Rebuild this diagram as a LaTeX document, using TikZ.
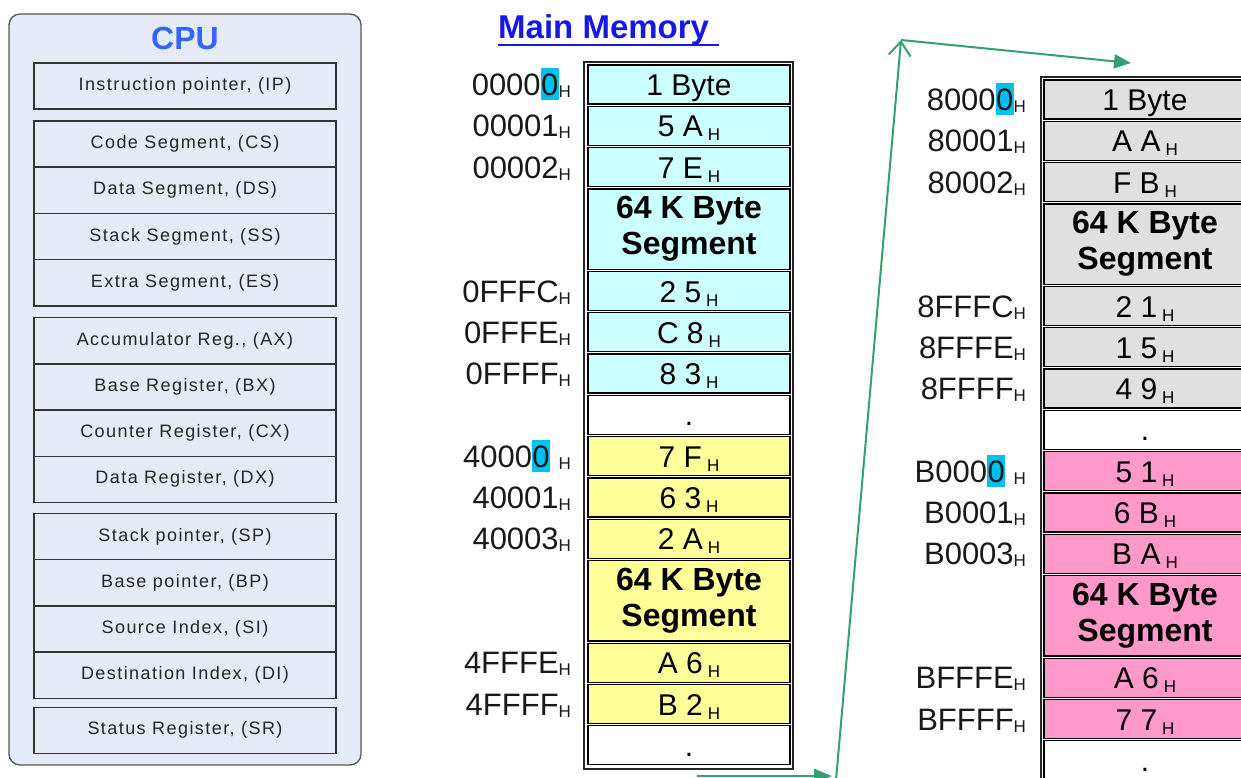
\documentclass[tikz,border=0pt]{standalone}
\usepackage{fontspec}
\setmainfont{Liberation Sans}
\newfontfamily\regfont[LetterSpace=8]{Liberation Sans}
\usepackage{xcolor}
\usepackage{tikz}
\usetikzlibrary{positioning}
\usetikzlibrary{arrows.meta}

\definecolor{cpufill}{RGB}{228,234,246}
\definecolor{cpuline}{RGB}{85,85,85}
\definecolor{cpublue}{RGB}{51,102,255}
\definecolor{mmblue}{RGB}{24,24,230}
\definecolor{cellcyan}{RGB}{204,255,255}
\definecolor{cellyellow}{RGB}{255,255,153}
\definecolor{cellgray}{RGB}{224,224,224}
\definecolor{cellpink}{RGB}{255,153,204}
\definecolor{hlcyan}{RGB}{0,192,240}
\definecolor{arrgreen}{RGB}{52,160,110}

\setlength{\fboxsep}{0pt}
% subscript H in a cell, and after an address
\newcommand{\hx}{\,\raisebox{-4pt}{\fontsize{17}{17}\selectfont H}}
\newcommand{\hs}{\raisebox{-2pt}{\fontsize{17}{17}\selectfont H}}
% marked last digit
\newcommand{\hz}{\colorbox{hlcyan}{\rule[-5pt]{0pt}{32pt}\makebox[18pt]{0}}}

\begin{document}
\begin{tikzpicture}[x=1pt,y=-1pt,
  cpubox/.style={draw=cpuline, fill=cpufill, line width=1.3pt, rounded corners=11pt, inner sep=0pt, outer sep=0pt},
  reg/.style={draw=black!80, line width=1.4pt, minimum width=302pt, minimum height=46.2pt, inner sep=0pt, outer sep=0pt, text=black!85, font=\regfont\fontsize{18}{20}\selectfont},
  mcell/.style={draw=black, line width=1.3pt, minimum width=202pt, minimum height=39pt, inner sep=0pt, outer sep=0pt, font=\fontsize{30}{32}\selectfont},
  vcell/.style={mcell, text height=24pt, text depth=2pt},
  segcell/.style={mcell, minimum height=80.3pt, align=center, font=\bfseries\fontsize{32}{36}\selectfont},
  addr/.style={inner sep=0pt, outer sep=0pt, text=black!90, font=\fontsize{31}{33}\selectfont},
  frame/.style={draw=black!85, line width=1.8pt},
  garrow/.style={draw=arrgreen, line width=2pt}]
\useasboundingbox (0,0) rectangle (1241,778);
\clip (0,0) rectangle (1241,778);
%%%%%%%%%%%%%% CPU
\node[cpubox, anchor=north west, minimum width=352pt, minimum height=751pt] (cpu) at (9,14) {};
\node[text=cpublue, font=\bfseries\fontsize{32}{34}\selectfont] (cput) at (185,38) {CPU};
\node[reg, anchor=north] (r1) at (185,63) {Instruction pointer, (IP)};
\node[reg, below=11.8pt of r1] (r2) {Code Segment, (CS)};
\node[reg, below=0pt of r2] (r3) {Data Segment, (DS)};
\node[reg, below=0pt of r3] (r4) {Stack Segment, (SS)};
\node[reg, below=0pt of r4] (r5) {Extra Segment, (ES)};
\node[reg, below=11.8pt of r5] (r6) {Accumulator Reg., (AX)};
\node[reg, below=0pt of r6] (r7) {Base Register, (BX)};
\node[reg, below=0pt of r7] (r8) {Counter Register, (CX)};
\node[reg, below=0pt of r8] (r9) {Data Register, (DX)};
\node[reg, below=11pt of r9] (r10) {Stack pointer, (SP)};
\node[reg, below=0pt of r10] (r11) {Base pointer, (BP)};
\node[reg, below=0pt of r11] (r12) {Source Index, (SI)};
\node[reg, below=0pt of r12] (r13) {Destination Index, (DI)};
\node[reg, below=9pt of r13] (r14) {Status Register, (SR)};
%%%%%%%%%%%%%% Main Memory, first column
\node[anchor=base west, inner sep=0pt, text=mmblue, font=\bfseries\fontsize{33}{35}\selectfont] (mm) at (498,39) {Main Memory};
\draw[mmblue, line width=2.4pt] ([yshift=-6pt]mm.base west) -- ([yshift=-6pt,xshift=10pt]mm.base east);
\draw[frame] (584,769) -- (584,62) -- (793,62) -- (793,769) -- cycle;
\node[vcell, fill=cellcyan, anchor=north] (c1) at (689,65) {1 Byte};
\node[vcell, fill=cellcyan, below=2.3pt of c1] (c2) {5 A\hx};
\node[vcell, fill=cellcyan, below=2.3pt of c2] (c3) {7 E\hx};
\node[segcell, fill=cellcyan, below=2.3pt of c3] (c4) {64 K Byte\\Segment};
\node[vcell, fill=cellcyan, below=2.3pt of c4] (c5) {2 5\hx};
\node[vcell, fill=cellcyan, below=2.3pt of c5] (c6) {C 8\hx};
\node[vcell, fill=cellcyan, below=2.3pt of c6] (c7) {8 3\hx};
\node[vcell, fill=white, below=2.3pt of c7] (c8) {.};
\node[vcell, fill=cellyellow, below=2.3pt of c8] (c9) {7 F\hx};
\node[vcell, fill=cellyellow, below=2.3pt of c9] (c10) {6 3\hx};
\node[vcell, fill=cellyellow, below=2.3pt of c10] (c11) {2 A\hx};
\node[segcell, fill=cellyellow, below=2.3pt of c11] (c12) {64 K Byte\\Segment};
\node[vcell, fill=cellyellow, below=2.3pt of c12] (c13) {A 6\hx};
\node[vcell, fill=cellyellow, below=2.3pt of c13] (c14) {B 2\hx};
\node[vcell, fill=white, below=2.3pt of c14] (c15) {.};
%%%%%%%%%%%%%%
\node[addr, left=17pt of c1.base west, anchor=base east] (a1) {0000\hz\hs};
\node[addr, left=17pt of c2.base west, anchor=base east] (a2) {00001\hs};
\node[addr, left=17pt of c3.base west, anchor=base east] (a3) {00002\hs};
\node[addr, left=17pt of c5.base west, anchor=base east] (a5) {0FFFC\hs};
\node[addr, left=17pt of c6.base west, anchor=base east] (a6) {0FFFE\hs};
\node[addr, left=17pt of c7.base west, anchor=base east] (a7) {0FFFF\hs};
\node[addr, left=17pt of c9.base west, anchor=base east] (a9) {4000\hz\ \hs};
\node[addr, left=17pt of c10.base west, anchor=base east] (a10) {40001\hs};
\node[addr, left=17pt of c11.base west, anchor=base east] (a11) {40003\hs};
\node[addr, left=17pt of c13.base west, anchor=base east] (a13) {4FFFE\hs};
\node[addr, left=17pt of c14.base west, anchor=base east] (a14) {4FFFF\hs};
%%%%%%%%%%%%%% second column
\draw[frame] (1041,800) -- (1041,77) -- (1260,77);
\node[vcell, fill=cellgray, anchor=north] (k1) at (1145,80) {1 Byte};
\node[vcell, fill=cellgray, below=2.3pt of k1] (k2) {A A\hx};
\node[vcell, fill=cellgray, below=2.3pt of k2] (k3) {F B\hx};
\node[segcell, fill=cellgray, below=2.3pt of k3] (k4) {64 K Byte\\Segment};
\node[vcell, fill=cellgray, below=2.3pt of k4] (k5) {2 1\hx};
\node[vcell, fill=cellgray, below=2.3pt of k5] (k6) {1 5\hx};
\node[vcell, fill=cellgray, below=2.3pt of k6] (k7) {4 9\hx};
\node[vcell, fill=white, below=2.3pt of k7] (k8) {.};
\node[vcell, fill=cellpink, below=2.3pt of k8] (k9) {5 1\hx};
\node[vcell, fill=cellpink, below=2.3pt of k9] (k10) {6 B\hx};
\node[vcell, fill=cellpink, below=2.3pt of k10] (k11) {B A\hx};
\node[segcell, fill=cellpink, below=2.3pt of k11] (k12) {64 K Byte\\Segment};
\node[vcell, fill=cellpink, below=2.3pt of k12] (k13) {A 6\hx};
\node[vcell, fill=cellpink, below=2.3pt of k13] (k14) {7 7\hx};
\node[vcell, fill=white, below=2.3pt of k14] (k15) {.};
%%%%%%%%%%%%%%
\node[addr, left=18pt of k1.base west, anchor=base east] (b1) {8000\hz\hs};
\node[addr, left=18pt of k2.base west, anchor=base east] (b2) {80001\hs};
\node[addr, left=18pt of k3.base west, anchor=base east] (b3) {80002\hs};
\node[addr, left=18pt of k5.base west, anchor=base east] (b5) {8FFFC\hs};
\node[addr, left=18pt of k6.base west, anchor=base east] (b6) {8FFFE\hs};
\node[addr, left=18pt of k7.base west, anchor=base east] (b7) {8FFFF\hs};
\node[addr, left=18pt of k9.base west, anchor=base east] (b9) {B000\hz\ \hs};
\node[addr, left=18pt of k10.base west, anchor=base east] (b10) {B0001\hs};
\node[addr, left=18pt of k11.base west, anchor=base east] (b11) {B0003\hs};
\node[addr, left=18pt of k13.base west, anchor=base east] (b13) {BFFFE\hs};
\node[addr, left=18pt of k14.base west, anchor=base east] (b14) {BFFFF\hs};
%%%%%%%%%%%%%% green arrows
\coordinate (g1) at (697,776);
\coordinate (g2) at (832,776);
\coordinate (g3) at (836,780);
\coordinate (g4) at (901,40);
\coordinate (g5) at (1131,63);
\draw[garrow, -{Triangle[length=18pt,width=14pt]}] (g1) -- (g2);
\draw[garrow, -{Straight Barb[length=14pt,width=22pt]}] (g3) -- (g4);
\draw[garrow, -{Triangle[length=17pt,width=14pt]}] (g4) -- (g5);
\end{tikzpicture}
\end{document}
